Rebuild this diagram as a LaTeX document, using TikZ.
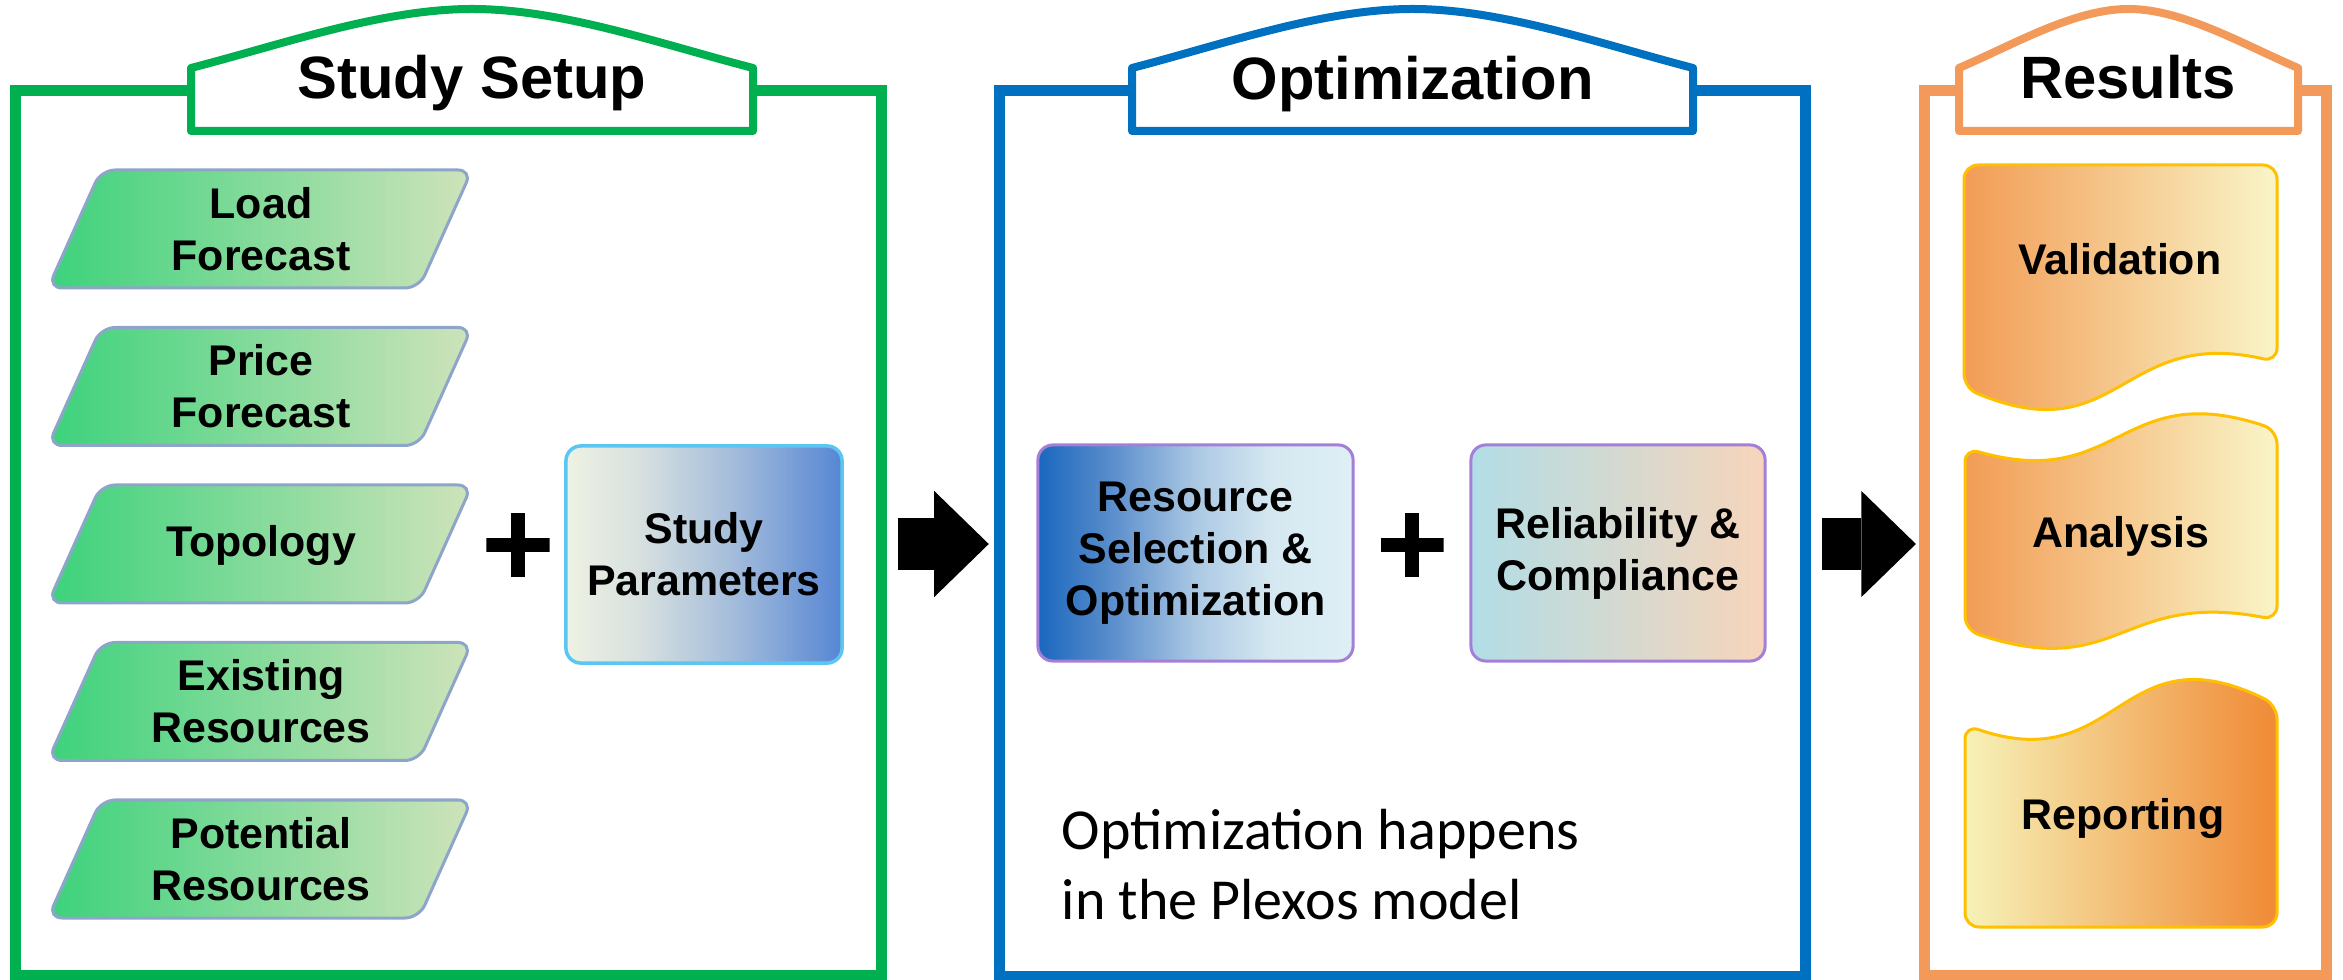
\documentclass[tikz,border=0pt]{standalone}
\usepackage{fontspec}
\setmainfont{Liberation Sans}
\newfontfamily\notefont{Carlito}
\usetikzlibrary{arrows.meta,calc}

% frame and tab colours
\definecolor{setupgreen}{HTML}{00B050}
\definecolor{optblue}{HTML}{0070C0}
\definecolor{resorange}{HTML}{F39A5A}
% input parallelograms
\definecolor{slantline}{HTML}{8EA5CA}
\definecolor{slantL}{HTML}{3CD27C}
\definecolor{slantR}{HTML}{CFE3BA}
% study parameters box
\definecolor{paramline}{HTML}{5BC6F2}
\definecolor{paramA}{HTML}{EEF2E3}
\definecolor{paramB}{HTML}{D8E1DF}
\definecolor{paramC}{HTML}{A5BDDB}
\definecolor{paramD}{HTML}{5686D4}
% optimization boxes
\definecolor{resA}{HTML}{1A67BE}
\definecolor{resB}{HTML}{5C8FCC}
\definecolor{resC}{HTML}{ABC8E3}
\definecolor{resD}{HTML}{D5E8F1}
\definecolor{resE}{HTML}{DEF0F5}
\definecolor{relL}{HTML}{B2DDE6}
\definecolor{relM}{HTML}{D6DCD6}
\definecolor{relR}{HTML}{F7D5BB}
\definecolor{purpleline}{HTML}{A47FD8}
% result documents
\definecolor{docline}{HTML}{FFC000}
\definecolor{docdeep}{HTML}{F29C55}
\definecolor{docpale}{HTML}{F9F5C8}
\definecolor{repdeep}{HTML}{F08A35}
\definecolor{reppale}{HTML}{F6F2B8}

\pgfdeclarehorizontalshading{paramshade}{100bp}{color(0bp)=(paramA); color(25bp)=(paramA); color(38bp)=(paramB); color(55bp)=(paramC); color(75bp)=(paramD); color(100bp)=(paramD)}
\pgfdeclarehorizontalshading{resshade}{100bp}{color(0bp)=(resA); color(25bp)=(resA); color(37bp)=(resB); color(50bp)=(resC); color(62bp)=(resD); color(75bp)=(resE); color(100bp)=(resE)}

\tikzset{
  frame/.style={draw=#1, line width=0.11cm, inner sep=0pt},
  tabline/.style={line width=0.08cm, fill=white, line join=round},
  titletext/.style={font=\fontsize{17}{20}\selectfont\bfseries, inner sep=0pt},
  boxtext/.style={font=\fontsize{12.2}{14.8}\selectfont\bfseries, align=center, inner sep=0pt},
  notetext/.style={font=\notefont\fontsize{16.5}{19.63}\selectfont, align=left, inner sep=0pt},
  slantstyle/.style={draw=slantline, line width=0.03cm, left color=slantL, right color=slantR, rounded corners=0.14cm},
  parambox/.style={draw=paramline, line width=0.035cm, shading=paramshade, rounded corners=0.15cm, boxtext},
  resbox/.style={draw=purpleline, line width=0.03cm, shading=resshade, rounded corners=0.15cm, boxtext},
  relbox/.style={draw=purpleline, line width=0.03cm, left color=relL, middle color=relM, right color=relR, rounded corners=0.15cm, boxtext},
  docstyle/.style={draw=docline, line width=0.03cm, rounded corners=0.14cm},
  bigarrow/.style={line width=0.51cm, -{Triangle[width=1.06cm,length=0.545cm,line width=0pt]}},
  plussign/.style={minimum size=0.63cm, inner sep=0pt,
    path picture={\draw[line width=0.14cm]
      (path picture bounding box.north) -- (path picture bounding box.south)
      (path picture bounding box.west) -- (path picture bounding box.east);}},
  slantbox/.pic={\path[slantstyle] (-159,-59) -- (212,-59) -- (159,59) -- (-212,59) -- cycle;}
}

% rounded title tab: left x, right x, colour
\newcommand{\titletab}[3]{%
  \draw[tabline, draw=#3] (#1,131) -- (#1,68)
    .. controls ({#1+0.165*(#2-#1)},44) and ({(#1+#2)/2-0.16*(#2-#1)},9) .. ({(#1+#2)/2},9)
    .. controls ({(#1+#2)/2+0.16*(#2-#1)},9) and ({#2-0.165*(#2-#1)},44) .. (#2,68)
    -- (#2,131) -- cycle;}

\begin{document}
\begin{tikzpicture}[x=0.01cm, y=-0.01cm]
\useasboundingbox (0,0) rectangle (2343,980);

% the three stage frames
\node[frame=setupgreen, minimum width=8.655cm, minimum height=8.84cm] (setup) at (448.25,533) {};
\node[frame=optblue, minimum width=8.05cm, minimum height=8.85cm] (optim) at (1402.5,533.5) {};
\node[frame=resorange, minimum width=4.01cm, minimum height=8.84cm] (results) at (2125.5,533) {};

% title tabs
\titletab{191}{753}{setupgreen}
\titletab{1132}{1693}{optblue}
\titletab{1959}{2298}{resorange}
\node[titletext, anchor=base] (setuptitle) at (472,99) {Study Setup};
\node[titletext, anchor=base] (optimtitle) at (1412.5,100) {Optimization};
\node[titletext, anchor=base] (resultstitle) at (2128,99) {Results};

% study setup inputs
\pic at (260,229) {slantbox};
\node[boxtext] (load) at (261,229) {Load\\Forecast};
\pic at (260,386.5) {slantbox};
\node[boxtext] (price) at (261,386.5) {Price\\Forecast};
\pic at (260,544) {slantbox};
\node[boxtext, anchor=base] (topology) at (261,557) {Topology};
\pic at (260,701.5) {slantbox};
\node[boxtext] (existing) at (261,701.5) {Existing\\Resources};
\pic at (260,859) {slantbox};
\node[boxtext] (potential) at (261,859) {Potential\\Resources};

\node[plussign] (plus1) at (518,545) {};
\node[parambox, minimum width=2.76cm, minimum height=2.17cm] (params) at (704,554.5) {Study\\Parameters};

% optimization stage
\node[resbox, minimum width=3.15cm, minimum height=2.16cm] (selection) at (1195.5,553) {Resource\\Selection \&\\Optimization};
\node[plussign] (plus2) at (1412,545) {};
\node[relbox, minimum width=2.94cm, minimum height=2.16cm] (reliability) at (1618,553) {Reliability \&\\Compliance};
% the base of this two-line node is the baseline of its last line
\node[notetext, anchor=base west] (note) at (1061,919) {Optimization happens\\in the Plexos model};

% result documents
\path[docstyle, left color=docdeep, right color=docpale]
  (1964,165) -- (2277,165) -- (2277,362)
  .. controls (2120,326) and (2120,453) .. (1964,388) -- cycle;
\node[boxtext, anchor=base] (validation) at (2120,275) {Validation};
\path[docstyle, left color=docdeep, right color=docpale]
  (1965,448) .. controls (2120,492) and (2120,378) .. (2277,430)
  -- (2277,620) .. controls (2120,590) and (2120,682) .. (1965,630) -- cycle;
\node[boxtext, anchor=base] (analysis) at (2121,548) {Analysis};
\path[docstyle, left color=reppale, right color=repdeep]
  (1965,725) .. controls (2120,778) and (2120,628) .. (2277,705)
  -- (2277,927) -- (1965,927) -- cycle;
\node[boxtext, anchor=base] (reporting) at (2123,830) {Reporting};

% flow between stages
\draw[bigarrow, shorten <=0.115cm, shorten >=0.055cm]
  ([yshift=-0.11cm]setup.east) -- ([yshift=-0.11cm]setup.east -| optim.west);
\draw[bigarrow, shorten <=0.115cm, shorten >=0.035cm]
  ([yshift=-0.105cm]optim.east) -- ([yshift=-0.105cm]optim.east -| results.west);
\end{tikzpicture}
\end{document}
